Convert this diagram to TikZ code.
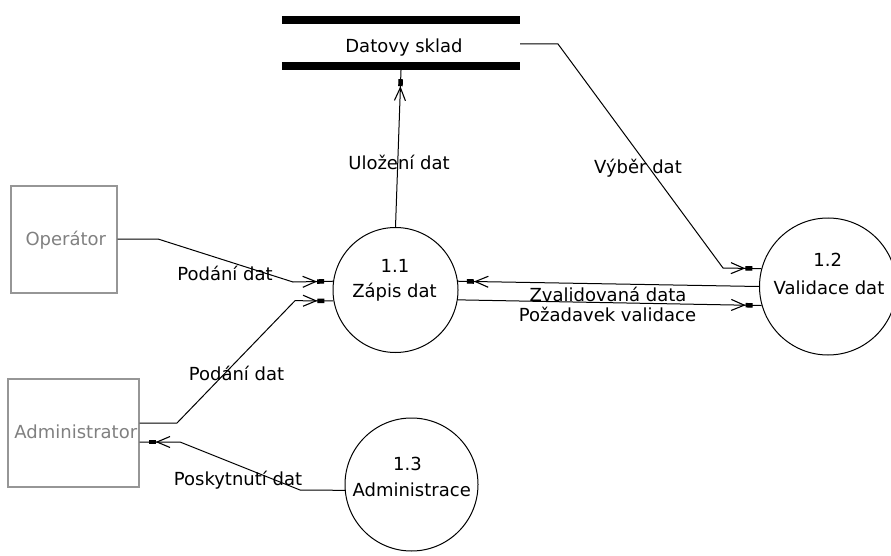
\documentclass[tikz,border=0pt]{standalone}
\usepackage{fontspec}
\setmainfont{DejaVu Sans}
\usetikzlibrary{arrows.meta,decorations.markings}
\definecolor{boxgray}{RGB}{150,150,150}
\definecolor{txtgray}{RGB}{128,128,128}
\begin{document}
\begin{tikzpicture}[x=1pt,y=-1pt,
  every node/.style={font=\fontsize{18}{22}\selectfont, inner sep=0pt},
  proc/.style={draw, circle, line width=1pt, inner sep=0pt},
  ext/.style={draw=boxgray, line width=1.2pt, rectangle},
  lbl/.style={anchor=base},
  gtxt/.style={anchor=base, text=txtgray},
  bar/.style={line width=8pt},
  flow/.style={line width=1pt, postaction=decorate,
    decoration={markings, mark=at position -9pt with {\arrow{Straight Barb[length=13pt,width=11pt,line width=1.1pt] Rectangle[sep=0pt,length=7pt,width=4.5pt]}}}}]
\useasboundingbox (0,0) rectangle (891,556);

% data store
\node[minimum width=238pt, minimum height=46pt] (store) at (401,43) {};
\draw[bar] (store.north west) -- (store.north east);
\draw[bar] (store.south west) -- (store.south east);
\node[lbl] (storetxt) at (404,52.3) {Datovy sklad};

% external entities
\node[ext, minimum width=106pt, minimum height=107pt] (op) at (64,239.5) {};
\node[gtxt] (optxt) at (65.8,245.7) {Operátor};
\node[ext, minimum width=131pt, minimum height=108pt] (adm) at (73.5,433) {};
\node[gtxt] (admtxt) at (75.8,438.3) {Administrator};

% processes
\node[proc, minimum size=125pt] (c11) at (395.5,290) {};
\node[lbl] (c11a) at (395,272.3) {1.1};
\node[lbl] (c11b) at (394.5,297.3) {Zápis dat};
\node[proc, minimum size=137pt] (c12) at (828,286.5) {};
\node[lbl] (c12a) at (827.8,266.7) {1.2};
\node[lbl] (c12b) at (829,294) {Validace dat};
\node[proc, minimum size=133pt] (c13) at (411.5,484.5) {};
\node[lbl] (c13a) at (407.5,470) {1.3};
\node[lbl] (c13b) at (411.7,496.7) {Administrace};

% bend points
\coordinate (op1) at (158,239);
\coordinate (op2) at (293,282);
\coordinate (ad1) at (177,423);
\coordinate (ad2) at (295,300.7);
\coordinate (ps1) at (300,490);
\coordinate (ps2) at (180,442);
\coordinate (vb1) at (558,44);
\coordinate (vb2) at (723,268);

% flows
\draw[flow] (op.east |- op1) -- (op1) -- (op2) -- (c11.172);
\draw[flow] (adm.east |- ad1) -- (ad1) -- (ad2) -- (c11.190);
\draw[flow] (c13.185) -- (ps1) -- (ps2) -- (adm.east |- ps2);
\draw[flow] (c12.180) -- (c11.8);
\draw[flow] (c11.351) -- (c12.196);
\draw[flow] (store.east |- vb1) -- (vb1) -- (vb2) -- (c12.165);
\draw[flow] (c11.north) -- ([yshift=-4pt]store.south);

% labels
\node[lbl] (l1) at (225,280) {Podání dat};
\node[lbl] (l2) at (236.5,380) {Podání dat};
\node[lbl] (l3) at (238,485) {Poskytnutí dat};
\node[lbl] (l4) at (399,170) {Uložení dat};
\node[lbl] (l5) at (638,174) {Výběr dat};
\node[lbl] (l6) at (608,301.7) {Zvalidovaná data};
\node[lbl] (l7) at (607.5,321.7) {Požadavek validace};
\end{tikzpicture}
\end{document}
